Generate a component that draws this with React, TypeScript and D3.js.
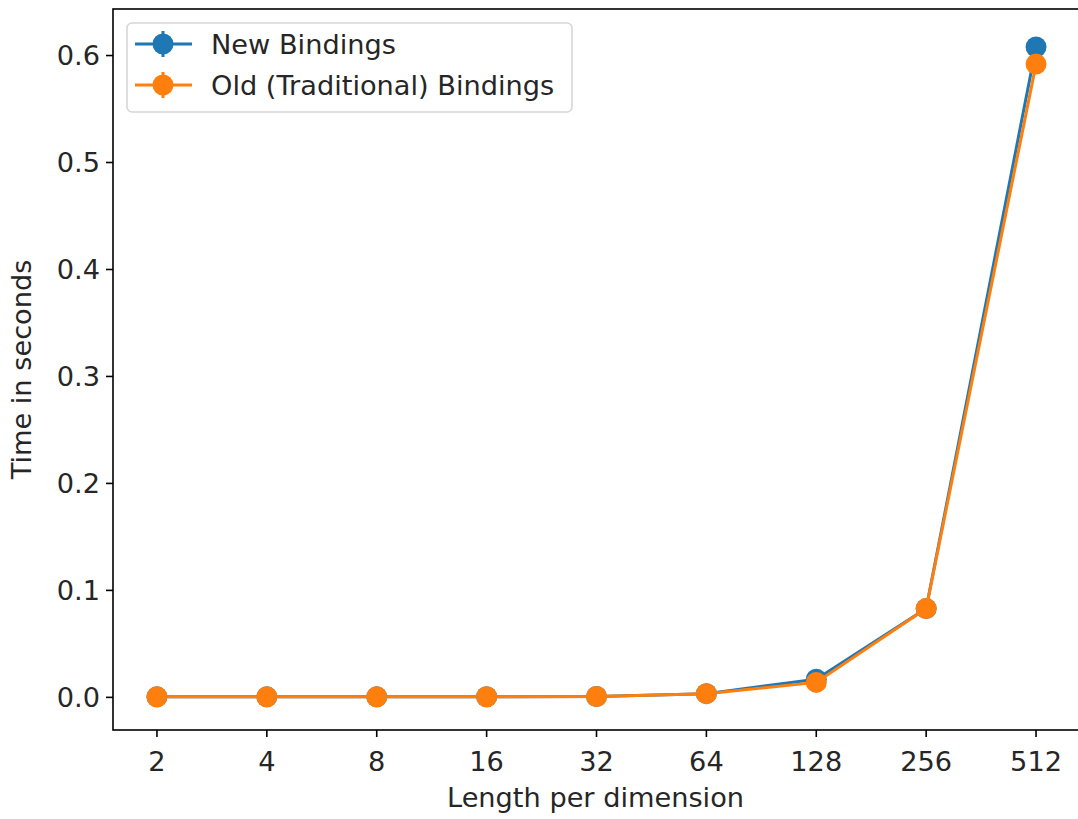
import * as d3 from "d3";

const sizes = ["2", "4", "8", "16", "32", "64", "128", "256", "512"];
const newBindings = [0.0005, 0.0005, 0.0005, 0.0006, 0.0008, 0.0035, 0.017, 0.083, 0.608];
const oldBindings = [0.0005, 0.0005, 0.0005, 0.0006, 0.0008, 0.0035, 0.014, 0.083, 0.592];
const yTicks = [0, 0.1, 0.2, 0.3, 0.4, 0.5, 0.6];
const seriesNames = ["New Bindings", "Old (Traditional) Bindings"];
const colors = ["#1f77b4", "#ff7f0e"];

const W = 1078;
const H = 819;
const left = 113;
const right = 1080;
const top = 9;
const bottom = 730;
const font = "'DejaVu Sans', sans-serif";
const fs = 27.2;

export default function App() {
  const x = d3.scaleLinear().domain([-0.4, sizes.length - 1 + 0.4]).range([left, right]);
  const y = d3.scaleLinear().domain([-0.0305, 0.6435]).range([bottom, top]);

  const line = d3
    .line<number>()
    .x((_, i) => x(i))
    .y((d) => y(d));

  const series = [newBindings, oldBindings];

  return (
    <svg
      width={W}
      height={H}
      style={{ position: "absolute", left: 0, top: 0, background: "#fff" }}
      fontFamily={font}
    >
      {/* data */}
      {series.map((vals, s) => (
        <g key={s}>
          <path d={line(vals) ?? ""} fill="none" stroke={colors[s]} strokeWidth={3} />
          {vals.map((v, i) => (
            <circle key={i} cx={x(i)} cy={y(v)} r={10.5} fill={colors[s]} />
          ))}
        </g>
      ))}

      {/* frame */}
      <rect
        x={left}
        y={top}
        width={right - left}
        height={bottom - top}
        fill="none"
        stroke="#000"
        strokeWidth={1.6}
      />

      {/* y axis */}
      {yTicks.map((t) => (
        <g key={t}>
          <line x1={left - 7} x2={left} y1={y(t)} y2={y(t)} stroke="#000" strokeWidth={1.6} />
          <text x={left - 13} y={y(t)} dy="0.36em" textAnchor="end" fontSize={fs} fill="#262626">
            {t.toFixed(1)}
          </text>
        </g>
      ))}
      <text
        transform={`translate(${31},${(top + bottom) / 2}) rotate(-90)`}
        textAnchor="middle"
        fontSize={fs}
        fill="#262626"
      >
        Time in seconds
      </text>

      {/* x axis */}
      {sizes.map((s, i) => (
        <g key={s}>
          <line x1={x(i)} x2={x(i)} y1={bottom} y2={bottom + 7} stroke="#000" strokeWidth={1.6} />
          <text x={x(i)} y={bottom + 41} textAnchor="middle" fontSize={fs} fill="#262626">
            {s}
          </text>
        </g>
      ))}
      <text x={(left + right) / 2 - 1} y={807} textAnchor="middle" fontSize={fs} fill="#262626">
        Length per dimension
      </text>

      {/* legend */}
      <rect
        x={127}
        y={23}
        width={445}
        height={89}
        rx={5}
        fill="#fff"
        fillOpacity={0.8}
        stroke="#d6d6d6"
        strokeWidth={1.6}
      />
      {seriesNames.map((name, s) => {
        const ly = 44 + s * 41;
        return (
          <g key={name}>
            <line x1={135} x2={192} y1={ly} y2={ly} stroke={colors[s]} strokeWidth={3} />
            <line x1={163} x2={163} y1={ly - 13} y2={ly + 13} stroke={colors[s]} strokeWidth={3} />
            <circle cx={163} cy={ly} r={10.5} fill={colors[s]} />
            <text x={211} y={ly} dy="0.36em" fontSize={fs} fill="#262626">
              {name}
            </text>
          </g>
        );
      })}
    </svg>
  );
}
